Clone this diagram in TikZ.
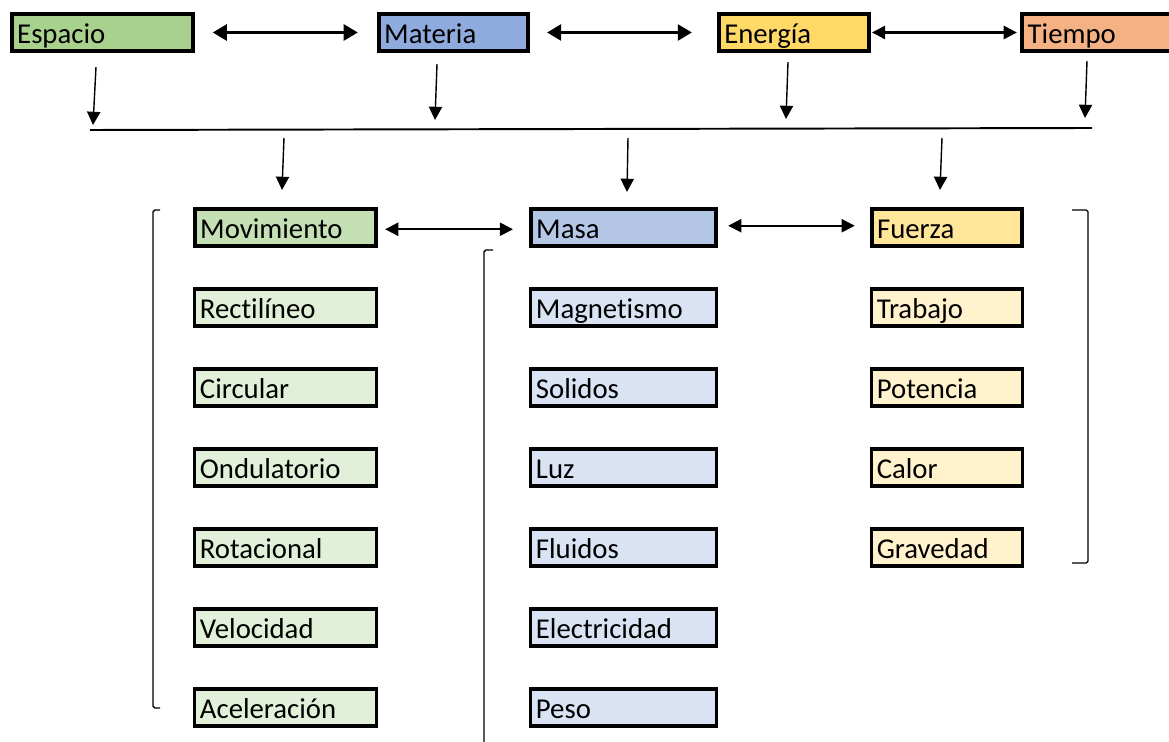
\documentclass[tikz,border=0pt]{standalone}
\usepackage{fontspec}
\setmainfont{Carlito}[Ligatures={NoCommon}]
\usetikzlibrary{arrows.meta, positioning, calc}
\definecolor{espaciogreen}{HTML}{A9D18E}
\definecolor{materiablue}{HTML}{8FAADC}
\definecolor{energiayellow}{HTML}{FFD966}
\definecolor{tiempoorange}{HTML}{F4B183}
\definecolor{movgreen}{HTML}{C5E0B4}
\definecolor{masablue}{HTML}{B4C7E7}
\definecolor{fuerzayellow}{HTML}{FFE699}
\definecolor{lightgreen}{HTML}{E2F0D9}
\definecolor{lightblue}{HTML}{DAE3F3}
\definecolor{lightyellow}{HTML}{FFF2CC}
\tikzset{
    % Top concept boxes
    top box/.style={
        rectangle, draw=black, line width=2.3pt,
        minimum height=21pt, inner xsep=3pt, inner ysep=0pt,
        text height=15pt, text depth=2pt,
        align=left, font=\fontsize{16.3}{19}\selectfont
    },
    % Column header boxes
    head box/.style={
        top box, line width=2.3pt
    },
    % Column item boxes
    item box/.style={
        top box, line width=1.9pt
    },
    % Arrows
    big arrow/.style={
        {Triangle[length=8pt,width=9pt]}-{Triangle[length=8pt,width=9pt]},
        line width=1.7pt
    },
    link arrow/.style={
        {Triangle[length=7.5pt,width=7.5pt]}-{Triangle[length=7.5pt,width=7.5pt]},
        line width=1.1pt
    },
    down arrow/.style={
        -{Triangle[length=7.5pt,width=7.5pt]}, line width=0.8pt
    },
    % Bar and brackets
    bar line/.style={line width=1.1pt},
    bracket/.style={line width=0.8pt, rounded corners=1pt}
}
\begin{document}
\begin{tikzpicture}[x=0.567pt, y=-0.567pt]
    \useasboundingbox (0,0) rectangle (1169,742);

    % Top row
    \node[top box, fill=espaciogreen, text width=96.7pt] (Esp) at (102.5,32.5) {Espacio};
    \node[top box, fill=materiablue, text width=78.6pt] (Mat) at (453.5,32.5) {Materia};
    \node[top box, fill=energiayellow, text width=79.1pt] (Ene) at (794,32.5) {Energía};
    \node[top box, fill=tiempoorange, text width=82pt] (Tie) at (1100,32.5) {Tiempo};

    \draw[big arrow, shorten <=10pt, shorten >=10.8pt] (Esp.east) -- (Mat.west);
    \draw[big arrow, shorten <=9.6pt, shorten >=14.2pt] (Mat.east) -- (Ene.west);
    \draw[link arrow, line width=1.3pt, shorten <=0.5pt, shorten >=2pt] (Ene.east) -- (Tie.west);

    % Joining bar
    \coordinate (barL) at (90,130);
    \coordinate (barR) at (1092,128);
    \draw[bar line] (barL) -- (barR);

    \draw[down arrow] ($(Esp.south)+(-6.5,14)$) -- ($(Esp.south |- barL)+(-9.5,-5)$);
    \draw[down arrow] ($(Mat.south)+(-16.5,11)$) -- ($(Mat.south |- barL)+(-18.5,-10)$);
    \draw[down arrow] ($(Ene.south)+(-6,9)$) -- ($(Ene.south |- barL)+(-8,-11)$);
    \draw[down arrow] ($(Tie.south)+(-13,8)$) -- ($(Tie.south |- barR)+(-15,-10)$);

    % Column headers
    \node[head box, fill=movgreen, text width=96.7pt] (Mov) at (285.5,227.5) {Movimiento};
    \node[head box, fill=masablue, text width=99pt] (Mas) at (623.5,227.5) {Masa};
    \node[head box, fill=fuerzayellow, text width=79.3pt] (Fue) at (947,227.5) {Fuerza};

    \draw[down arrow] ($(Mov.north |- barL)+(-1.5,8)$) -- ($(Mov.north)+(-3.5,-17)$);
    \draw[down arrow] ($(Mas.north |- barL)+(4.5,8)$) -- ($(Mas.north)+(3.5,-15)$);
    \draw[down arrow] ($(Fue.north |- barL)+(-5,8)$) -- ($(Fue.north)+(-7,-17)$);

    \draw[link arrow, shorten <=4pt, shorten >=9pt] ([yshift=-1pt]Mov.east) -- ([yshift=-1pt]Mas.west);
    \draw[link arrow, shorten <=5.7pt, shorten >=8.5pt] ([yshift=1pt]Mas.east) -- ([yshift=1pt]Fue.west);

    % Movimiento column
    \node[item box, fill=lightgreen, text width=97pt] (Rec) at (285.5,307.5) {Rectilíneo};
    \node[item box, fill=lightgreen, text width=97pt] (Cir) at (285.5,387.5) {Circular};
    \node[item box, fill=lightgreen, text width=97pt] (Ond) at (285.5,467.5) {Ondulatorio};
    \node[item box, fill=lightgreen, text width=97pt] (Rot) at (285.5,547.5) {Rotacional};
    \node[item box, fill=lightgreen, text width=97pt] (Vel) at (285.5,627.5) {Velocidad};
    \node[item box, fill=lightgreen, text width=97pt] (Ace) at (285.5,707.5) {Aceleración};

    % Masa column
    \node[item box, fill=lightblue, text width=99.3pt] (Mag) at (623.5,307.5) {Magnetismo};
    \node[item box, fill=lightblue, text width=99.3pt] (Sol) at (623.5,387.5) {Solidos};
    \node[item box, fill=lightblue, text width=99.3pt] (Luz) at (623.5,467.5) {Luz};
    \node[item box, fill=lightblue, text width=99.3pt] (Flu) at (623.5,547.5) {Fluidos};
    \node[item box, fill=lightblue, text width=99.3pt] (Ele) at (623.5,627.5) {Electricidad};
    \node[item box, fill=lightblue, text width=99.3pt] (Pes) at (623.5,707.5) {Peso};

    % Fuerza column
    \node[item box, fill=lightyellow, text width=79.6pt] (Tra) at (947,307.5) {Trabajo};
    \node[item box, fill=lightyellow, text width=79.6pt] (Pot) at (947,387.5) {Potencia};
    \node[item box, fill=lightyellow, text width=79.6pt] (Cal) at (947,467.5) {Calor};
    \node[item box, fill=lightyellow, text width=79.6pt] (Gra) at (947,547.5) {Gravedad};

    % Brackets
    \draw[bracket] (160,210) -- (153,210) -- (153,708) -- (160,708);
    \draw[bracket] (493,250) -- (484,250) -- (484,750);
    \draw[bracket] (1072,210) -- (1088,210) -- (1088,563) -- (1072,563);

\end{tikzpicture}
\end{document}
